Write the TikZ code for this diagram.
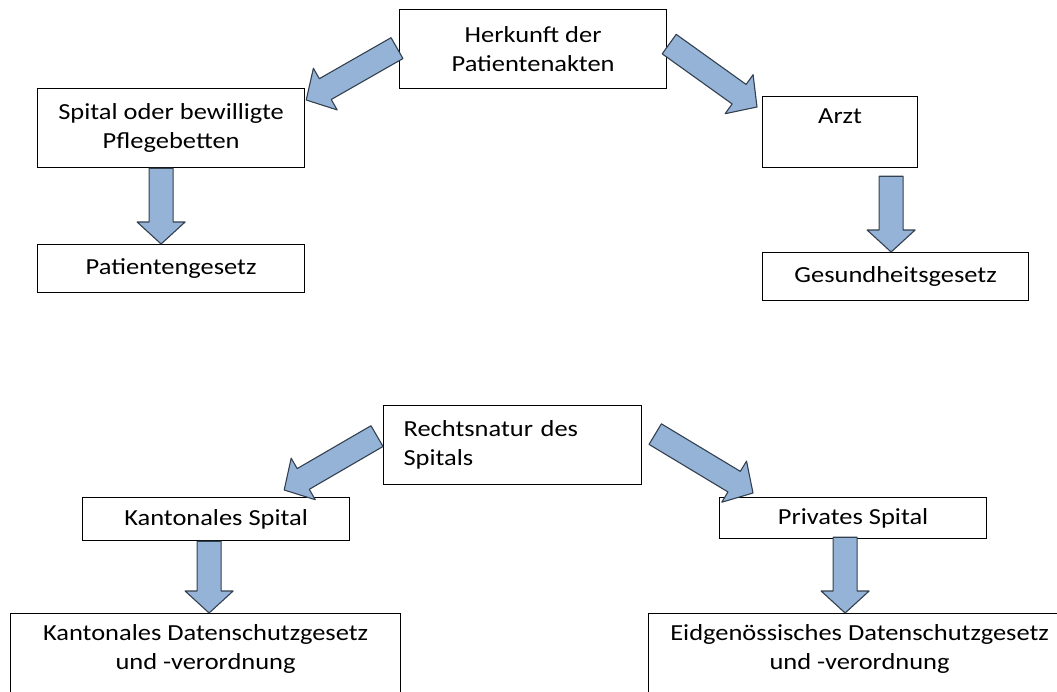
\documentclass[tikz,border=0pt]{standalone}
\usepackage{fontspec}
\setmainfont{Carlito}[FakeStretch=1.15]
\usepackage{tikz}
\usetikzlibrary{calc}
\definecolor{arrowfill}{HTML}{95B3D7}
\definecolor{arrowline}{HTML}{33404F}

\newcommand\fatarrow[2]{%
  \coordinate (neck) at ($(#2)!22pt!(#1)$);
  \draw [blockarr] ($(#1)!12pt!90:(#2)$) -- ($(neck)!12pt!90:(#2)$)
    -- ($(neck)!24pt!90:(#2)$) -- (#2) -- ($(neck)!24pt!-90:(#2)$)
    -- ($(neck)!12pt!-90:(#2)$) -- ($(#1)!12pt!-90:(#2)$) -- cycle;
}

\begin{document}
\begin{tikzpicture}[x=1pt, y=-1pt,
    box/.style={draw=black, line width=1.2pt, anchor=north west, align=center,
      font=\fontsize{23}{29}\selectfont},
    blockarr/.style={draw=arrowline, fill=arrowfill, line width=1.1pt, line join=round}]
        \useasboundingbox (0,0) rectangle (1057,691);
        \clip (0,0) rectangle (1057,691);
        \node[box, minimum width=267pt, minimum height=79pt] (herkunft) at (399,9) {Herkunft der\\Patientenakten};
        \node[box, minimum width=267pt, minimum height=79pt] (spital) at (37,88) {Spital oder bewilligte\\Pflegebetten};
        \node[box, minimum width=267pt, minimum height=48pt] (patg) at (37,244) {Patientengesetz};
        \node[box, minimum width=155pt, minimum height=71pt, inner ysep=11.5pt, text height=15pt, text depth=33pt] (arzt) at (762,96) {Arzt};
        \node[box, minimum width=266pt, minimum height=48pt] (gesg) at (762,252) {Gesundheitsgesetz};
        \node[box, minimum height=79pt, text width=218pt, inner xsep=20pt, align=left] (recht) at (383,405) {Rechtsnatur des\\Spitals};
        \node[box, minimum width=267pt, minimum height=43pt] (kant) at (82,497) {Kantonales Spital};
        \node[box, minimum width=267pt, minimum height=41pt] (priv) at (719,497) {Privates Spital};
        \node[box, minimum width=390pt, inner ysep=11pt, text depth=70pt] (kantds) at (10,613) {Kantonales Datenschutzgesetz\\und -verordnung};
        \node[box, minimum width=422pt, inner ysep=11pt, text depth=70pt] (eidgds) at (648,613) {Eidgenössisches Datenschutzgesetz\\und -verordnung};
        \coordinate (a1) at ($(herkunft.west)+(-2,-1)$);
        \coordinate (b1) at ($(spital.north east)+(1,12)$);
        \coordinate (a2) at ($(herkunft.east)+(2,-5)$);
        \coordinate (b2) at ($(arzt.north west)+(-5,11)$);
        \coordinate (a3) at ($(recht.west)+(-6,-9)$);
        \coordinate (b3) at ($(kant.north east)+(-66,-7)$);
        \coordinate (a4) at ($(recht.east)+(13,-11)$);
        \coordinate (b4) at ($(priv.north west)+(34,-4)$);
        \coordinate (a5) at ($(spital.south)+(-10,0)$);
        \coordinate (b5) at (a5 |- patg.north);
        \coordinate (a6) at ($(arzt.south)+(51,8)$);
        \coordinate (b6) at (a6 |- gesg.north);
        \coordinate (a7) at ($(kant.south)+(-7,0)$);
        \coordinate (b7) at (a7 |- kantds.north);
        \coordinate (a8) at ($(priv.south)+(-8,-2)$);
        \coordinate (b8) at (a8 |- eidgds.north);
        \fatarrow{a1}{b1}
        \fatarrow{a2}{b2}
        \fatarrow{a3}{b3}
        \fatarrow{a4}{b4}
        \fatarrow{a5}{b5}
        \fatarrow{a6}{b6}
        \fatarrow{a7}{b7}
        \fatarrow{a8}{b8}
    \end{tikzpicture}
\end{document}
